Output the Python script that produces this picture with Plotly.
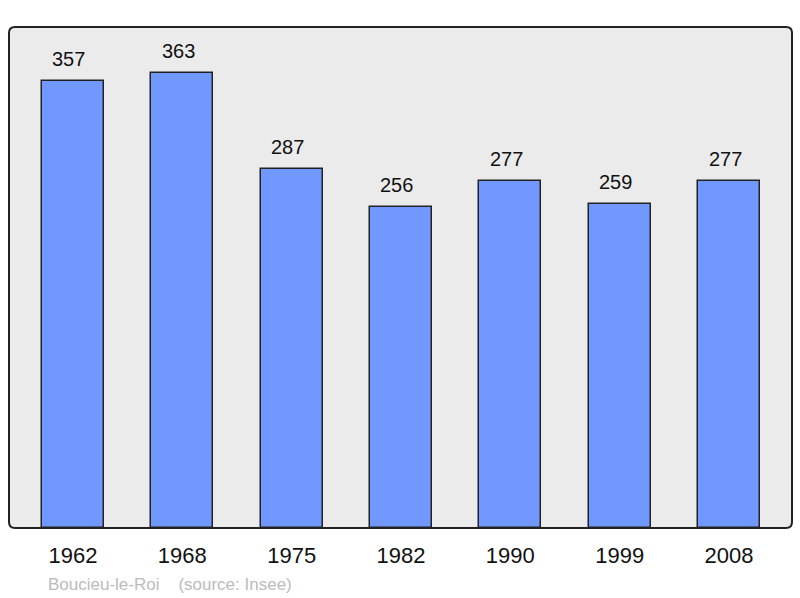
import plotly.graph_objects as go

years = ["1962", "1968", "1975", "1982", "1990", "1999", "2008"]
population = [357, 363, 287, 256, 277, 259, 277]
commune = "Boucieu-le-Roi"
source = "(source: Insee)"

W, H = 800, 598
ml, mr, mt, mb = 9, 8, 27, 70
pw, ph = W - ml - mr, H - mt - mb

fig = go.Figure()
fig.add_trace(go.Bar(
    x=years, y=population, width=0.565,
    marker=dict(color="#7098ff", line=dict(color="#222222", width=1.5)),
    hoverinfo="x+y",
))

for i, v in enumerate(population):
    fig.add_annotation(x=i, y=v, text=str(v), showarrow=False,
                       yanchor="middle", yshift=22, xshift=-4,
                       font=dict(family="Liberation Sans, Arial", size=20, color="#111111"))

fig.add_annotation(xref="paper", yref="paper", x=(46 - ml) / pw, y=-(584 - mt - ph) / ph,
                   xanchor="left", yanchor="middle", showarrow=False,
                   text=commune + "&nbsp;&nbsp;&nbsp;&nbsp;" + source,
                   font=dict(family="Liberation Sans, Arial", size=17, color="#bbbbbb"))

# rounded frame
rx, ry = 6 / pw, 6 / ph
path = (f"M {rx},0 L {1-rx},0 Q 1,0 1,{ry} L 1,{1-ry} Q 1,1 {1-rx},1 "
        f"L {rx},1 Q 0,1 0,{1-ry} L 0,{ry} Q 0,0 {rx},0 Z")
fig.add_shape(type="path", path=path, xref="paper", yref="paper",
              line=dict(color="#222222", width=2), layer="above")

fig.update_layout(
    width=W, height=H,
    margin=dict(l=ml, r=mr, t=mt, b=mb),
    paper_bgcolor="white", plot_bgcolor="#ebebeb",
    showlegend=False, bargap=0,
    font=dict(family="Liberation Sans, Arial"),
)
fig.update_xaxes(type="category", range=[-0.585, 6.576], showgrid=False, zeroline=False,
                 ticks="outside", ticklen=8, tickcolor="rgba(0,0,0,0)",
                 tickfont=dict(size=22, color="#111111"), showline=False)
fig.update_yaxes(range=[0, 400], showgrid=False, zeroline=False, showticklabels=False,
                 showline=False)

fig.write_html("out.html", config={"displayModeBar": False},
               post_script="document.body.style.margin='0';")
